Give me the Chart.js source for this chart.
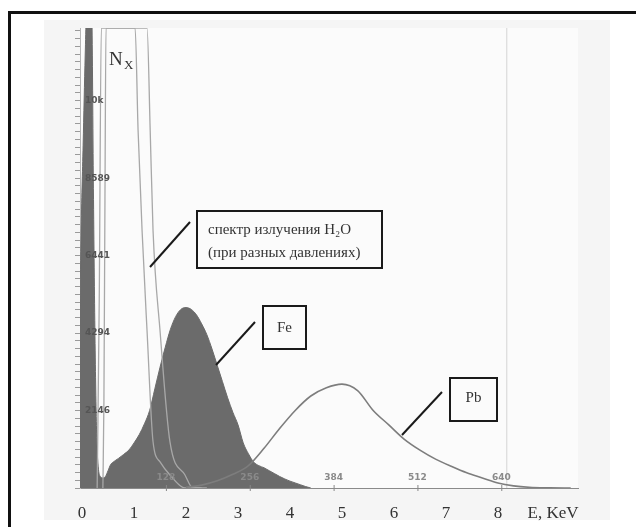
<!DOCTYPE html>
<html><head><meta charset="utf-8">
<script src="https://cdn.jsdelivr.net/npm/chart.js@4.4.1/dist/chart.umd.min.js"></script>
<style>
html,body{margin:0;padding:0;background:#fff;}
#wrap{position:relative;width:636px;height:527px;overflow:hidden;background:#fff;}
#frame{position:absolute;left:8px;top:11px;width:700px;height:600px;border-left:3px solid #111;border-top:3px solid #111;}
#panel{position:absolute;left:44px;top:20px;width:566px;height:500px;background:#f5f5f5;}
canvas{position:absolute;left:0;top:0;}
</style></head>
<body><div id="wrap"><div id="frame"></div><div id="panel"></div><canvas id="c" width="636" height="527"></canvas></div>
<script>
// ---- data (energy in keV, counts) ----
const energyTicks = [0, 1, 2, 3, 4, 5, 6, 7, 8];
const energyAxisTitle = 'E, KeV';
const energyTitlePos = 9.06;
const channelTicks = [128, 256, 384, 512, 640];
const keVPerChannel = 0.0126;
const yTickStep = 2147;
const yTickLabels = ['2146', '4294', '6441', '8589', '10k'];

// dark histogram: low-energy spike + Fe peak
const histE = [-0.04,-0.02,0.02,0.06,0.10,0.15,0.19,0.22,0.25,0.28,0.31,0.35,0.40,0.45,0.50,0.55,0.6,0.7,0.8,0.9,1.0,1.1,1.2,1.3,1.4,1.5,1.6,1.7,1.8,1.9,2.0,2.1,2.2,2.3,2.4,2.5,2.6,2.7,2.8,2.9,3.0,3.1,3.2,3.3,3.4,3.5,3.6,3.7,3.8,3.9,4.0,4.1,4.2,4.3,4.4];
const histN = [5000,7000,9500,12000,14000,14500,13000,8000,4000,1500,600,320,280,320,480,650,720,820,930,1050,1250,1480,1780,2150,2750,3350,3900,4400,4750,4950,5000,4950,4800,4550,4250,3850,3400,2950,2500,2100,1750,1250,950,720,620,560,480,400,320,250,190,140,90,40,0];

// H2O emission spectra (two pressures)
const h2oAE = [0.40,0.42,0.44,0.46,1.02,1.077,1.154,1.25,1.365,1.5,1.69,1.98,2.3];
const h2oAN = [0,2398,7975,12750,12750,9925,7138,4350,1283,725,362,0,0];
const h2oBE = [0.29,0.33,0.37,1.25,1.31,1.365,1.5,1.69,1.98,2.13,2.4];
const h2oBN = [0,5186,12750,12750,9925,7138,4350,1283,362,0,0];

// Pb spectrum
const pbE = [2.0,2.3,2.6,2.9,3.2,3.5,3.8,4.1,4.4,4.7,5.0,5.3,5.6,5.9,6.2,6.5,6.8,7.1,7.4,7.7,8.0,8.3,8.6,9.0,9.4];
const pbN = [20,80,200,380,620,1100,1650,2150,2550,2780,2880,2700,2150,1750,1350,1050,800,600,420,280,140,60,20,5,0];

const markerE = 8.17;
const yMax = 12750;

const pts = (xs, ys) => xs.map((x, i) => ({x, y: ys[i]}));

const bgPlugin = {
  id: 'bg',
  beforeDraw(chart) {
    const {ctx, chartArea: a} = chart;
    ctx.save();
    ctx.fillStyle = '#fbfbfb';
    ctx.fillRect(a.left, a.top, a.right - a.left, a.bottom - a.top);
    ctx.restore();
  }
};

const annoPlugin = {
  id: 'anno',
  afterDatasetsDraw(chart) {
    const {ctx, chartArea: a, scales} = chart;
    const xs = scales.x, ys = scales.y;
    ctx.save();
    ctx.font = 'bold 9px "DejaVu Sans", sans-serif';
    ctx.textAlign = 'left';
    ctx.textBaseline = 'middle';
    ctx.fillStyle = '#555';
    yTickLabels.forEach((t, i) => {
      ctx.fillText(t, a.left + 5, ys.getPixelForValue((i + 1) * yTickStep));
    });
    ctx.textAlign = 'center';
    channelTicks.forEach(c => {
      const px = xs.getPixelForValue(c * keVPerChannel);
      ctx.fillStyle = '#8a8a8a';
      ctx.fillText(String(c), px, a.bottom - 10);
      ctx.strokeStyle = '#888';
      ctx.lineWidth = 1;
      ctx.beginPath(); ctx.moveTo(px + 0.5, a.bottom - 3); ctx.lineTo(px + 0.5, a.bottom + 3); ctx.stroke();
    });
    ctx.restore();
  },
  afterDraw(chart) {
    const {ctx} = chart;
    ctx.save();
    ctx.fillStyle = '#333';
    ctx.textAlign = 'left';
    ctx.textBaseline = 'alphabetic';
    ctx.font = '19px "Liberation Serif", serif';
    ctx.fillText('N', 109, 65);
    ctx.font = '13px "Liberation Serif", serif';
    ctx.fillText('X', 124, 69);

    ctx.strokeStyle = '#1a1a1a';
    ctx.lineWidth = 2;
    const line = (x1, y1, x2, y2) => { ctx.beginPath(); ctx.moveTo(x1, y1); ctx.lineTo(x2, y2); ctx.stroke(); };
    line(150, 267, 190, 222);
    ctx.strokeRect(197, 211, 185, 57);
    ctx.font = '15px "Liberation Serif", serif';
    ctx.textBaseline = 'middle';
    ctx.fillText('спектр излучения H₂O', 208, 230);
    ctx.fillText('(при разных давлениях)', 208, 253);
    line(216, 365, 255, 322);
    ctx.strokeRect(263, 306, 43, 43);
    ctx.textAlign = 'center';
    ctx.fillText('Fe', 284.5, 328);
    line(402, 435, 442, 392);
    ctx.strokeRect(450, 378, 47, 43);
    ctx.fillText('Pb', 473.5, 398);
    ctx.restore();
  }
};

new Chart(document.getElementById('c'), {
  type: 'line',
  data: {
    datasets: [
      { data: pts(pbE, pbN), borderColor: '#7d7d7d', borderWidth: 1.6, pointRadius: 0, fill: false, cubicInterpolationMode: 'monotone', order: 1 },
      { data: pts(h2oAE, h2oAN), borderColor: '#a8a8a8', borderWidth: 1.3, pointRadius: 0, fill: false, cubicInterpolationMode: 'monotone', order: 2 },
      { data: pts(h2oBE, h2oBN), borderColor: '#a8a8a8', borderWidth: 1.3, pointRadius: 0, fill: false, cubicInterpolationMode: 'monotone', order: 2 },
      { data: pts(histE, histN), borderColor: '#6b6b6b', backgroundColor: '#6b6b6b', borderWidth: 1, pointRadius: 0, fill: 'origin', cubicInterpolationMode: 'monotone', order: 3 },
      { data: [{x: markerE, y: 0}, {x: markerE, y: yMax}], borderColor: '#d4d4d4', borderWidth: 1, pointRadius: 0, fill: false, order: 4 }
    ]
  },
  options: {
    responsive: false,
    animation: false,
    devicePixelRatio: 1,
    layout: { padding: { left: 74, right: 58, top: 28, bottom: 0 } },
    plugins: { legend: { display: false }, tooltip: { enabled: false } },
    scales: {
      x: {
        type: 'linear', min: -0.04, max: 9.54,
        afterFit: s => { s.height = 39; },
        afterBuildTicks: s => { s.ticks = energyTicks.map(v => ({value: v})).concat([{value: energyTitlePos}]); },
        grid: { display: false },
        border: { display: true, color: '#8a8a8a', dash: [1, 3], width: 1 },
        ticks: {
          autoSkip: false, maxRotation: 0, padding: 7, color: '#333',
          font: { family: '"Liberation Serif", serif', size: 17 },
          callback: (v, i) => i < energyTicks.length ? String(energyTicks[i]) : energyAxisTitle
        }
      },
      y: {
        type: 'linear', min: 0, max: yMax,
        afterFit: s => { s.width = 6; },
        afterBuildTicks: s => {
          const t = [];
          for (let i = 0; i * yTickStep / 10 <= yMax; i++) t.push({value: i * yTickStep / 10});
          s.ticks = t;
        },
        grid: { display: true, drawOnChartArea: false, drawTicks: true, tickLength: 5, color: '#9a9a9a' },
        border: { display: true, color: '#b5b5b5' },
        ticks: { display: false }
      }
    }
  },
  plugins: [bgPlugin, annoPlugin]
});
</script>
</body></html>
